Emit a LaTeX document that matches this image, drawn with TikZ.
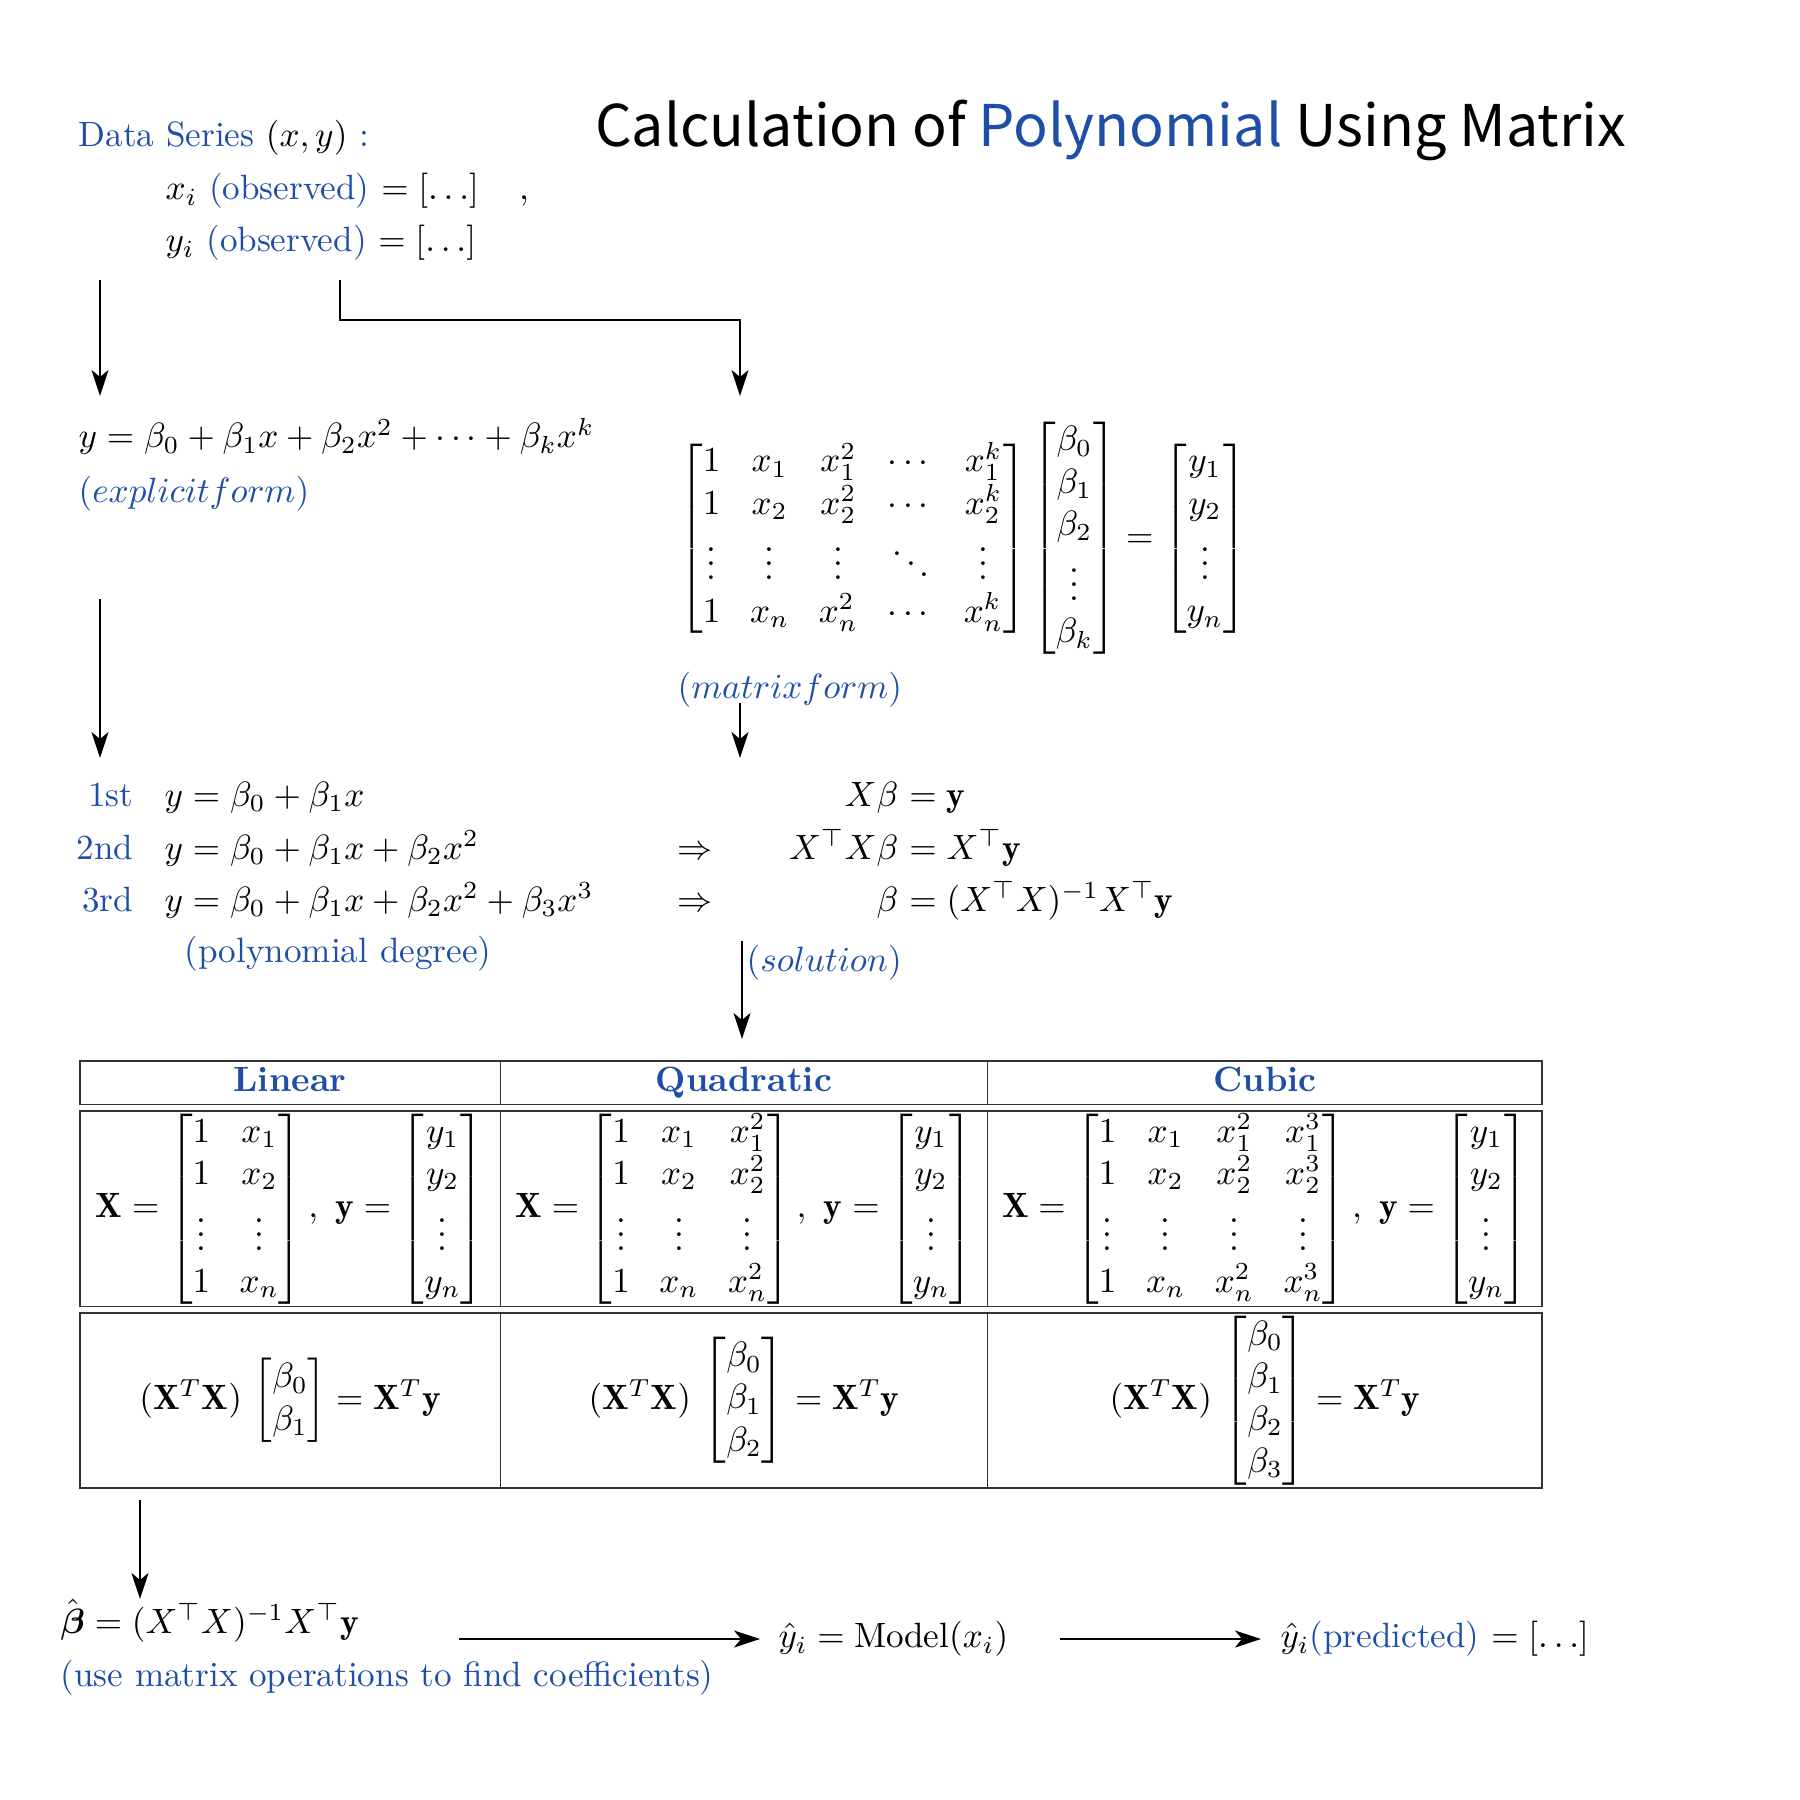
\documentclass[tikz,border=0pt]{standalone}
\usepackage{amssymb}
\usepackage{amsmath}
\usepackage{fontspec}
\newfontfamily\titlefont{Noto Sans CJK SC}
\usepackage{tikz}
\usetikzlibrary{arrows.meta}
\definecolor{blueText}{RGB}{31,78,167}
\setlength{\arraycolsep}{4.2pt}

\begin{document}
\begin{tikzpicture}[x=1mm,y=-1mm,
		txt/.style={inner sep=0pt},
		flow/.style={semithick,-{Stealth[length=2.6mm,width=1.7mm,inset=0.7mm]}},
		cellrule/.style={draw=black!80,line width=0.5pt}]
		
		\useasboundingbox (0,0) rectangle (180,180);
		
		% Title
		\node[txt,anchor=base] (title) at (111.05,14.7)
		{\titlefont\fontsize{16.35}{20}\selectfont Calculation of \textcolor{blueText}{Polynomial} Using Matrix};
		
		% Data series
		\node[txt,anchor=base west] (dataHead) at (7.8,14.7)
		{\textcolor{blueText}{Data Series} $(x,y)$ \textcolor{blueText}{:}};
		\node[txt,anchor=base west] (xObs) at (16.5,20.0)
		{$x_i$ \textcolor{blueText}{(observed)} $= [\ldots]$\quad\,,};
		\node[txt,anchor=base west] (yObs) at (16.5,25.2)
		{$y_i$ \textcolor{blueText}{(observed)} $= [\ldots]$};
		
		% Explicit form
		\node[txt,anchor=base west] (explicit) at (7.8,44.8)
		{$y = \beta_0 + \beta_1 x + \beta_2 x^2 + \cdots + \beta_k x^k$};
		\node[txt,anchor=base west,blueText] (explicitLbl) at (7.8,50.3) {$(explicit form)$};
		
		% Matrix form
		\node[txt] (matEq) at (96.3,53.85)
		{$\begin{bmatrix}
				1 & x_1 & x_1^2 & \cdots & x_1^k\\
				1 & x_2 & x_2^2 & \cdots & x_2^k\\
				\vdots & \vdots & \vdots & \ddots & \vdots\\
				1 & x_n & x_n^2 & \cdots & x_n^k
			\end{bmatrix}
			\begin{bmatrix}\beta_0\\ \beta_1\\ \beta_2\\ \vdots\\ \beta_k\end{bmatrix}
			=
			\begin{bmatrix}y_1\\ y_2\\ \vdots\\ y_n\end{bmatrix}$};
		\node[txt,anchor=base west,blueText] (matLbl) at (67.7,69.9) {$(matrix form)$};
		
		% Polynomial degrees
		\node[txt,anchor=base east,blueText] (deg1) at (13.4,80.6) {1st};
		\node[txt,anchor=base east,blueText] (deg2) at (13.4,85.9) {2nd};
		\node[txt,anchor=base east,blueText] (deg3) at (13.4,91.1) {3rd};
		\node[txt,anchor=base west] (poly1) at (16.4,80.6) {$y = \beta_0 + \beta_1 x$};
		\node[txt,anchor=base west] (poly2) at (16.4,85.9) {$y = \beta_0 + \beta_1 x + \beta_2 x^2$};
		\node[txt,anchor=base west] (poly3) at (16.4,91.1) {$y = \beta_0 + \beta_1 x + \beta_2 x^2 + \beta_3 x^3$};
		\node[txt,anchor=base west,blueText] (degLbl) at (18.4,96.2) {(polynomial degree)};
		
		% Solution steps
		\node[txt,anchor=base west] (impl1) at (67.7,85.9) {$\Rightarrow$};
		\node[txt,anchor=base west] (impl2) at (67.7,91.1) {$\Rightarrow$};
		\node[txt,anchor=base east] (solL1) at (89.9,80.6) {$X\beta$};
		\node[txt,anchor=base west] (solR1) at (89.9,80.6) {${}= \mathbf{y}$};
		\node[txt,anchor=base east] (solL2) at (89.9,85.9) {$X^\top X\beta$};
		\node[txt,anchor=base west] (solR2) at (89.9,85.9) {${}= X^\top\mathbf{y}$};
		\node[txt,anchor=base east] (solL3) at (89.9,91.1) {$\beta$};
		\node[txt,anchor=base west] (solR3) at (89.9,91.1) {${}= (X^\top X)^{-1}X^\top\mathbf{y}$};
		\node[txt,anchor=base west,blueText] (solLbl) at (74.6,97.1) {$(solution)$};
		
		% Table frame
		\draw[cellrule] (8.0,106.1) rectangle (154.2,110.45);
		\draw[cellrule] (8.0,111.1) rectangle (154.2,130.65);
		\draw[cellrule] (8.0,131.3) rectangle (154.2,148.8);
		\draw[cellrule] (50.05,106.1) -- (50.05,110.45) (98.75,106.1) -- (98.75,110.45);
		\draw[cellrule] (50.05,111.1) -- (50.05,130.65) (98.75,111.1) -- (98.75,130.65);
		\draw[cellrule] (50.05,131.3) -- (50.05,148.8) (98.75,131.3) -- (98.75,148.8);
		
		% Table headers
		\node[txt,anchor=base,blueText,font=\bfseries] (hdLin) at (29.0,109.1) {Linear};
		\node[txt,anchor=base,blueText,font=\bfseries] (hdQuad) at (74.4,109.1) {Quadratic};
		\node[txt,anchor=base,blueText,font=\bfseries] (hdCub) at (126.5,109.1) {Cubic};
		
		% Design matrices
		\node[txt] (desLin) at (29.0,120.9)
		{$\mathbf{X} = \begin{bmatrix}1 & x_1\\ 1 & x_2\\ \vdots & \vdots\\ 1 & x_n\end{bmatrix}
			,\ \mathbf{y} = \begin{bmatrix}y_1\\ y_2\\ \vdots\\ y_n\end{bmatrix}$};
		\node[txt] (desQuad) at (74.4,120.9)
		{$\mathbf{X} = \begin{bmatrix}1 & x_1 & x_1^2\\ 1 & x_2 & x_2^2\\ \vdots & \vdots & \vdots\\ 1 & x_n & x_n^2\end{bmatrix}
			,\ \mathbf{y} = \begin{bmatrix}y_1\\ y_2\\ \vdots\\ y_n\end{bmatrix}$};
		\node[txt] (desCub) at (126.5,120.9)
		{$\mathbf{X} = \begin{bmatrix}1 & x_1 & x_1^2 & x_1^3\\ 1 & x_2 & x_2^2 & x_2^3\\ \vdots & \vdots & \vdots & \vdots\\ 1 & x_n & x_n^2 & x_n^3\end{bmatrix}
			,\ \mathbf{y} = \begin{bmatrix}y_1\\ y_2\\ \vdots\\ y_n\end{bmatrix}$};
		
		% Normal equations
		\node[txt] (normLin) at (29.0,140.05)
		{$(\mathbf{X}^T\mathbf{X})\,\begin{bmatrix}\beta_0\\ \beta_1\end{bmatrix} = \mathbf{X}^T\mathbf{y}$};
		\node[txt] (normQuad) at (74.4,140.05)
		{$(\mathbf{X}^T\mathbf{X})\,\begin{bmatrix}\beta_0\\ \beta_1\\ \beta_2\end{bmatrix} = \mathbf{X}^T\mathbf{y}$};
		\node[txt] (normCub) at (126.5,140.05)
		{$(\mathbf{X}^T\mathbf{X})\,\begin{bmatrix}\beta_0\\ \beta_1\\ \beta_2\\ \beta_3\end{bmatrix} = \mathbf{X}^T\mathbf{y}$};
		
		% Estimate and prediction
		\node[txt,anchor=base west] (betaHat) at (6.0,163.3)
		{$\hat{\boldsymbol{\beta}} = (X^\top X)^{-1}X^\top\mathbf{y}$};
		\node[txt,anchor=base west,blueText] (betaLbl) at (6.0,168.6) {(use matrix operations to find coefficients)};
		\node[txt,anchor=west] (model) at (77.8,163.9) {$\hat{y}_i = \mathrm{Model}(x_i)$};
		\node[txt,anchor=west] (pred) at (128.0,163.9)
		{$\hat{y}_i$\textcolor{blueText}{(predicted)} $= [\ldots]$};
		
		% Arrow ends
		\coordinate (dataOut) at (10.0,28.0);
		\coordinate (explicitIn) at (10.0,39.6);
		\coordinate (dataSplit) at (34.0,28.0);
		\coordinate (matIn) at (74.0,39.6);
		\coordinate (explicitOut) at (10.0,59.9);
		\coordinate (degIn) at (10.0,75.8);
		\coordinate (matOut) at (74.0,70.3);
		\coordinate (solIn) at (74.0,75.8);
		\coordinate (solOut) at (74.2,94.1);
		\coordinate (tableIn) at (74.2,103.9);
		\coordinate (tableOut) at (14.0,150.0);
		\coordinate (betaIn) at (14.0,159.9);
		\coordinate (betaOut) at (45.9,163.9);
		\coordinate (predOut) at (106.0,163.9);
		
		% Arrows
		\draw[flow] (dataOut) -- (explicitIn);
		\draw[flow] (dataSplit) -- ++(0,4) -| (matIn);
		\draw[flow] (explicitOut) -- (degIn);
		\draw[flow] (matOut) -- (solIn);
		\draw[flow] (solOut) -- (tableIn);
		\draw[flow] (tableOut) -- (betaIn);
		\draw[flow] (betaOut) -- (model.west -| 76.0,0);
		\draw[flow] (predOut) -- (pred.west -| 126.1,0);
		
	\end{tikzpicture}
\end{document}
